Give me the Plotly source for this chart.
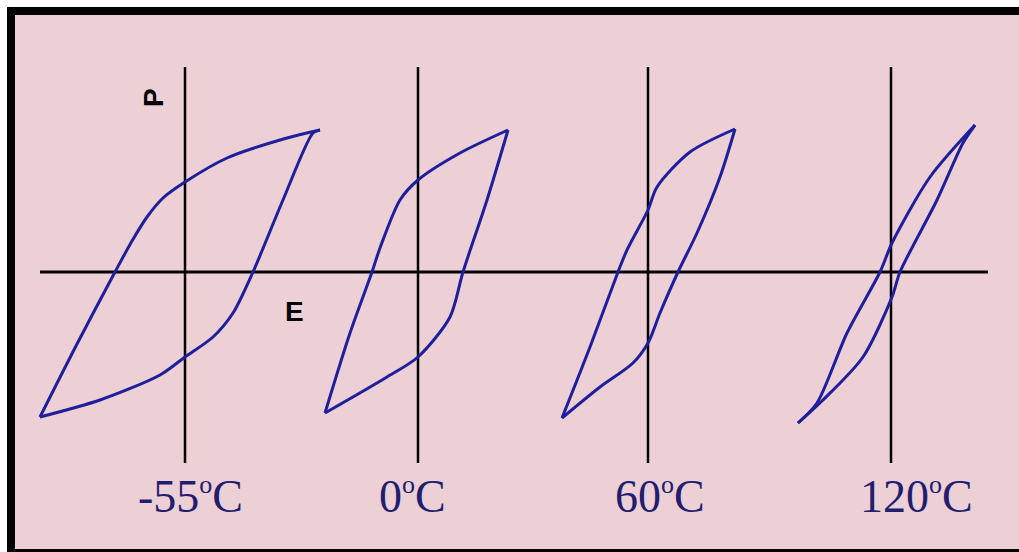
import plotly.graph_objects as go

# Temperature panels and the E position of each panel's P axis (pixel-like E units)
temps = ["-55", "0", "60", "120"]
origins = [185, 418, 648, 891]
label_x = [190, 412, 660, 916]

# Hysteresis loops, E and P relative to each panel origin.
# "up" branch: from the negative tip to the positive tip (upper path)
# "down" branch: from the positive tip back to the negative tip (lower path)
up_E_m55 = [-145, -108, -70, -53, -38, -22, 0, 42, 102, 135]
up_P_m55 = [-145, -72, 0, 31, 55, 74, 90, 114, 134, 142]
dn_E_m55 = [135, 128, 98, 68, 48, 28, 0, -25, -85, -145]
dn_P_m55 = [142, 139, 72, 0, -41, -65, -85, -103, -128, -145]

up_E_0 = [-93, -68, -46, -38, -18, 0, 42, 90]
up_P_0 = [-141, -61, 0, 24, 72, 92, 119, 142]
dn_E_0 = [90, 69, 45, 32, 0, -31, -93]
dn_P_0 = [142, 72, 0, -45, -85, -105, -141]

up_E_60 = [-86, -58, -30, -21, 0, 9, 42, 87]
up_P_60 = [-146, -75, 0, 22, 62, 85, 120, 143]
dn_E_60 = [87, 72, 49, 30, 12, 0, -15, -48, -86]
dn_P_60 = [143, 95, 39, 0, -41, -71, -91, -115, -146]

up_E_120 = [-93, -74, -44, -11, 1, 39, 84]
up_P_120 = [-151, -131, -61, 0, 29, 95, 147]
dn_E_120 = [84, 72, 46, 9, 1, -28, -68, -93]
dn_P_120 = [147, 129, 72, 0, -25, -85, -128, -151]

loops = [
    (up_E_m55, up_P_m55, dn_E_m55, dn_P_m55),
    (up_E_0, up_P_0, dn_E_0, dn_P_0),
    (up_E_60, up_P_60, dn_E_60, dn_P_60),
    (up_E_120, up_P_120, dn_E_120, dn_P_120),
]

BG = "#ecd0d6"
LOOP = "#1f1f9c"
TEXT = "#221d6e"

fig = go.Figure()

for origin, (ue, up, de, dp) in zip(origins, loops):
    for xs, ys in ((ue, up), (de, dp)):
        fig.add_trace(go.Scatter(
            x=[origin + v for v in xs], y=ys, mode="lines",
            line=dict(color=LOOP, width=3, shape="spline", smoothing=0.8),
            hoverinfo="skip", showlegend=False,
        ))

shapes = []
# E axis shared by all panels
shapes.append(dict(type="line", x0=40, x1=988, y0=0, y1=0,
                   line=dict(color="black", width=3), layer="below"))
# P axis of each panel
for o in origins:
    shapes.append(dict(type="line", x0=o, x1=o, y0=205, y1=-191,
                       line=dict(color="black", width=2.5), layer="below"))
# Frame: white margin, then black bands on top, left and bottom
shapes += [
    dict(type="rect", x0=0, x1=1019, y0=265, y1=272, fillcolor="white", line_width=0),
    dict(type="rect", x0=0, x1=7, y0=-280, y1=272, fillcolor="white", line_width=0),
    dict(type="rect", x0=7, x1=1019, y0=257, y1=265, fillcolor="black", line_width=0),
    dict(type="rect", x0=7, x1=15, y0=-280, y1=265, fillcolor="black", line_width=0),
    dict(type="rect", x0=7, x1=1019, y0=-280, y1=-277, fillcolor="black", line_width=0),
]

annotations = [
    dict(x=153, y=174, text="<b>P</b>", textangle=-90, showarrow=False,
         font=dict(family="Liberation Sans", size=28, color="black")),
    dict(x=294, y=-39, text="<b>E</b>", showarrow=False,
         font=dict(family="Liberation Sans", size=28, color="black")),
]
for t, lx in zip(temps, label_x):
    annotations.append(dict(
        x=lx, y=-224, showarrow=False,
        text=t + "<sup><span style='font-size:26px'>o</span></sup>C",
        font=dict(family="Liberation Serif", size=46, color=TEXT)))

fig.update_layout(
    width=1019, height=552,
    margin=dict(l=0, r=0, t=0, b=0),
    paper_bgcolor=BG, plot_bgcolor=BG,
    xaxis=dict(range=[0, 1019], visible=False, fixedrange=True),
    yaxis=dict(range=[-280, 272], visible=False, fixedrange=True),
    shapes=shapes, annotations=annotations,
)

fig.write_html("out.html", config={"displayModeBar": False})
